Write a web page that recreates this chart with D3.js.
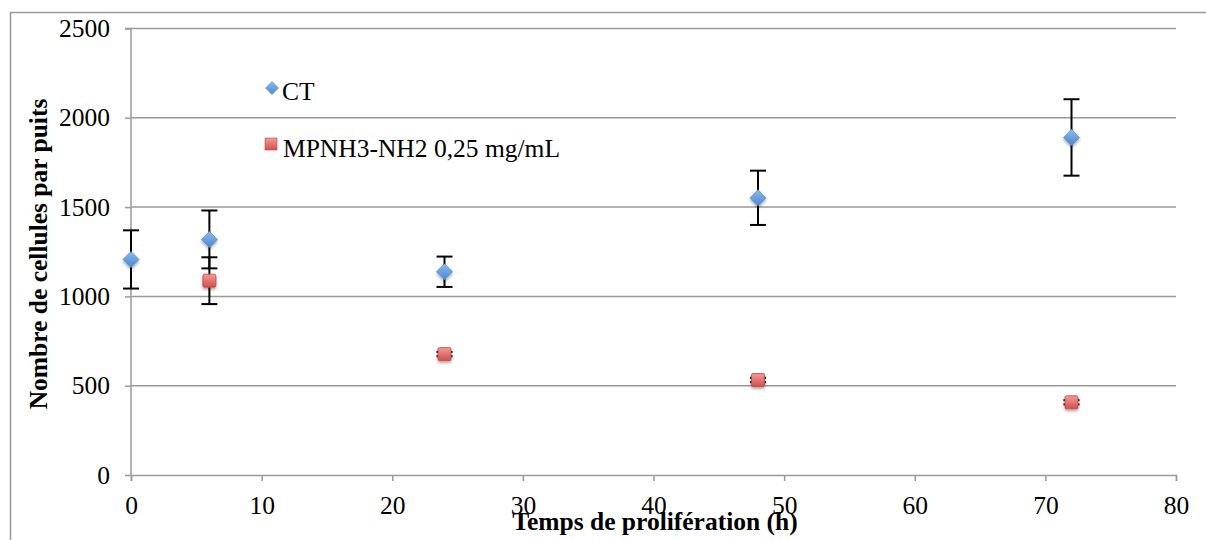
<!DOCTYPE html>
<html><head><meta charset="utf-8">
<script src="https://cdn.jsdelivr.net/npm/d3@7"></script>
<style>body{margin:0;background:#fff}svg{display:block}</style>
</head><body>
<svg id="chart" width="1206" height="540"></svg>
<script>
const hours = [0, 6, 24, 48, 72];
const ctValues = [1207, 1319, 1138, 1552, 1890];
const ctErrors = [163, 162, 85, 152, 214];
const mpHours = [6, 24, 48, 72];
const mpValues = [1088, 677, 532, 407];
const mpErrors = [131, 12, 12, 12];
const xTicks = [0, 10, 20, 30, 40, 50, 60, 70, 80];
const yTicks = [0, 500, 1000, 1500, 2000, 2500];
const seriesNames = ["CT", "MPNH3-NH2 0,25 mg/mL"];

const svg = d3.select("#chart");
const font = "'Liberation Serif','Times New Roman',serif";
const fs = 25.5;
const x = d3.scaleLinear().domain([0, 80]).range([131, 1176]);
const y = d3.scaleLinear().domain([0, 2500]).range([475, 28.5]);

// defs
const defs = svg.append("defs");
const f = defs.append("filter").attr("id","sh").attr("x","-50%").attr("y","-50%").attr("width","200%").attr("height","200%");
f.append("feDropShadow").attr("dx",0).attr("dy",2).attr("stdDeviation",1.5).attr("flood-color","#000").attr("flood-opacity",0.35);
const gb = defs.append("linearGradient").attr("id","gb").attr("x1",0).attr("y1",0).attr("x2",0).attr("y2",1);
gb.append("stop").attr("offset","0%").attr("stop-color","#8cbcf0");
gb.append("stop").attr("offset","100%").attr("stop-color","#4a86cf");
const gr = defs.append("linearGradient").attr("id","gr").attr("x1",0).attr("y1",0).attr("x2",0).attr("y2",1);
gr.append("stop").attr("offset","0%").attr("stop-color","#f29a98");
gr.append("stop").attr("offset","100%").attr("stop-color","#d2504c");

// outer frame
svg.append("path").attr("d","M10.5,545 V12.5 H1210").attr("fill","none").attr("stroke","#999").attr("stroke-width",1.5);

// gridlines
svg.append("g").selectAll("line").data(yTicks.filter(d=>d>0)).join("line")
  .attr("x1", x(0)).attr("x2", x(80)).attr("y1", d=>y(d)).attr("y2", d=>y(d))
  .attr("stroke","#9a9a9a").attr("stroke-width",1.5);

// axes
const yAxis = svg.append("g").attr("transform",`translate(${x(0)},0)`)
  .call(d3.axisLeft(y).tickValues(yTicks).tickSize(6).tickPadding(15).tickFormat(d3.format("d")));
const xAxis = svg.append("g").attr("transform",`translate(0,${y(0)})`)
  .call(d3.axisBottom(x).tickValues(xTicks).tickSize(6).tickPadding(15).tickFormat(d3.format("d")));
[yAxis, xAxis].forEach(a=>{
  a.select(".domain").attr("stroke","#9a9a9a").attr("stroke-width",1.5);
  a.selectAll(".tick line").attr("stroke","#9a9a9a").attr("stroke-width",1.5);
  a.selectAll("text").attr("font-family",font).attr("font-size",fs).attr("fill","#000");
});
yAxis.select(".domain").attr("d",`M-6,${y(2500)}H0V${y(0)}`);

// error bars
function errBars(xs, vs, es){
  const g = svg.append("g");
  const d = xs.map((h,i)=>({h, v:vs[i], e:es[i]}));
  g.selectAll("line.v").data(d).join("line").attr("class","v")
    .attr("x1",d=>x(d.h)).attr("x2",d=>x(d.h)).attr("y1",d=>y(d.v+d.e)).attr("y2",d=>y(d.v-d.e))
    .attr("stroke","#000").attr("stroke-width",2);
  g.selectAll("line.t").data(d).join("line").attr("class","t")
    .attr("x1",d=>x(d.h)-8).attr("x2",d=>x(d.h)+8).attr("y1",d=>y(d.v+d.e)).attr("y2",d=>y(d.v+d.e))
    .attr("stroke","#000").attr("stroke-width",2);
  g.selectAll("line.b").data(d).join("line").attr("class","b")
    .attr("x1",d=>x(d.h)-8).attr("x2",d=>x(d.h)+8).attr("y1",d=>y(d.v-d.e)).attr("y2",d=>y(d.v-d.e))
    .attr("stroke","#000").attr("stroke-width",2);
}
errBars(hours, ctValues, ctErrors);
errBars(mpHours, mpValues, mpErrors);

const diamond = "M0,-8L8,0L0,8L-8,0Z";
function drawDiamond(sel){ sel.append("path").attr("d",diamond).attr("fill","url(#gb)").attr("stroke","#5a8fd0").attr("stroke-width",0.8).attr("filter","url(#sh)"); }
function drawSquare(sel){ sel.append("rect").attr("x",-6.5).attr("y",-6.5).attr("width",13).attr("height",13).attr("rx",1.5).attr("fill","url(#gr)").attr("stroke","#c04844").attr("stroke-width",0.8).attr("filter","url(#sh)"); }

svg.append("g").selectAll("g").data(hours.map((h,i)=>[h,ctValues[i]])).join("g")
  .attr("transform",d=>`translate(${x(d[0])},${y(d[1])})`).each(function(){ drawDiamond(d3.select(this)); });
svg.append("g").selectAll("g").data(mpHours.map((h,i)=>[h,mpValues[i]])).join("g")
  .attr("transform",d=>`translate(${x(d[0])},${y(d[1])})`).each(function(){ drawSquare(d3.select(this)); });

// legend
const lg1 = svg.append("g").attr("transform","translate(272,88)");
lg1.append("path").attr("d","M0,-6.5L6.5,0L0,6.5L-6.5,0Z").attr("fill","url(#gb)").attr("stroke","#5a8fd0").attr("stroke-width",0.6);
lg1.append("text").attr("x",10).attr("y",12).text(seriesNames[0]).attr("font-family",font).attr("font-size",fs);
const lg2 = svg.append("g").attr("transform","translate(271,144)");
lg2.append("rect").attr("x",-6).attr("y",-6).attr("width",12).attr("height",12).attr("fill","url(#gr)").attr("stroke","#c04844").attr("stroke-width",0.6);
lg2.append("text").attr("x",12).attr("y",13).text(seriesNames[1]).attr("font-family",font).attr("font-size",fs);

// titles
svg.append("text").attr("transform","translate(47,254) rotate(-90)").attr("text-anchor","middle")
  .attr("font-family",font).attr("font-weight","bold").attr("font-size",fs).text("Nombre de cellules par puits");
svg.append("text").attr("x",655).attr("y",530).attr("text-anchor","middle")
  .attr("font-family",font).attr("font-weight","bold").attr("font-size",fs).text("Temps de prolifération (h)");
</script>
</body></html>
